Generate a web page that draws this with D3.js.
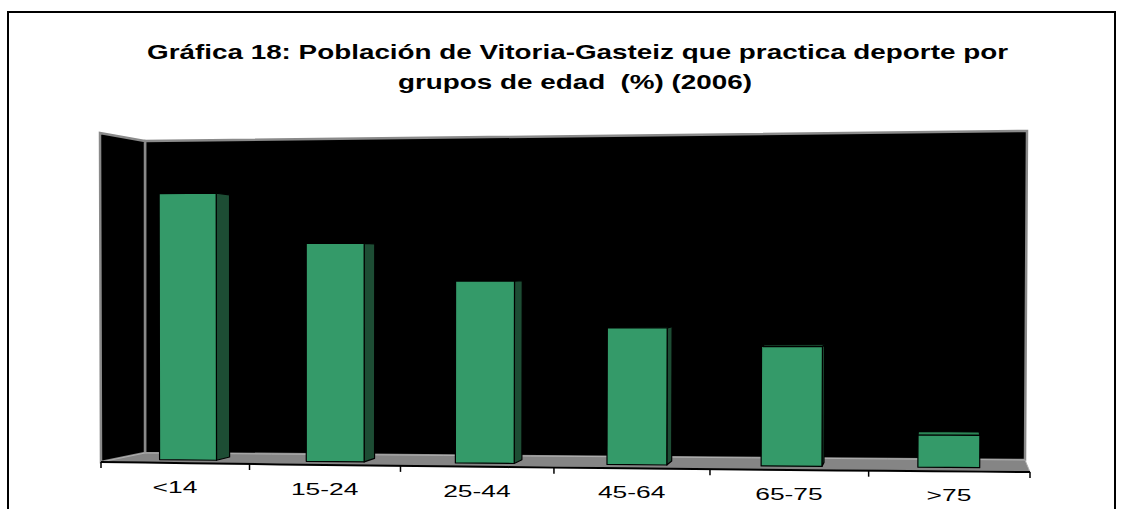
<!DOCTYPE html>
<html lang="es">
<head>
<meta charset="UTF-8">
<title>Gráfica 18</title>
<script src="https://d3js.org/d3.v7.min.js"></script>
<style>
  body { margin: 0; background: #fff; }
  svg text { font-family: Arial, "Liberation Sans", sans-serif; }
</style>
</head>
<body>
<div id="chart"></div>
<script>
// data
var categories = ["<14", "15-24", "25-44", "45-64", "65-75", ">75"];
var values = [82, 66.5, 55, 41, 35.5, 9.5];
var valueMax = 100;
var titleLines = ["Gráfica 18: Población de Vitoria-Gasteiz que practica deporte por",
                  "grupos de edad  (%) (2006)"];

var width = 1123, height = 509;

var svg = d3.select("#chart")
  .append("svg")
    .attr("width", width)
    .attr("height", height);

// outer chart border
svg.append("rect")
  .attr("x", 8).attr("y", 12)
  .attr("width", 1107).attr("height", 530)
  .attr("fill", "#fff")
  .attr("stroke", "#000")
  .attr("stroke-width", 2);

// title
svg.selectAll(".title")
  .data(titleLines)
  .enter()
  .append("text")
    .attr("class", "title")
    .attr("x", function(d, i){ return i == 0 ? 147 : 398 })
    .attr("y", function(d, i){ return 59 + i * 30 })
    .attr("textLength", function(d, i){ return i == 0 ? 861 : 354 })
    .attr("lengthAdjust", "spacingAndGlyphs")
    .attr("font-size", 21)
    .attr("font-weight", "bold")
    .style("white-space", "pre")
    .text(function(d){ return d });

// screen corners of the 3D box: front plane and back plane
var box = {
  front: { l0: [101, 462], r0: [1030, 472], l1: [100, 133], r1: [1032, 125] },
  back:  { l0: [145, 453], r0: [1025, 460], l1: [145, 141], r1: [1027, 131] }
};
var bulge = 3; // the front floor edge is a little curved

// horizontal perspective along the category axis
function persp(u) { return u / (1 + 0.051 * (1 - u)); }

function planePoint(p, f, h, isFront) {
  var x0 = p.l0[0] + (p.r0[0] - p.l0[0]) * f;
  var y0 = p.l0[1] + (p.r0[1] - p.l0[1]) * f + (isFront ? bulge * f * (1 - f) : 0);
  var x1 = p.l1[0] + (p.r1[0] - p.l1[0]) * f;
  var y1 = p.l1[1] + (p.r1[1] - p.l1[1]) * f;
  return [x0 + (x1 - x0) * h, y0 + (y1 - y0) * h];
}
// u: along categories (0..1), d: depth front->back (0..1), h: height (0..1)
function project(u, d, h) {
  var f = persp(u);
  var a = planePoint(box.front, f, h, true);
  var b = planePoint(box.back, f, h, false);
  return [a[0] + (b[0] - a[0]) * d, a[1] + (b[1] - a[1]) * d];
}

var x = d3.scaleBand().domain(categories).range([0, 1]);
var z = d3.scaleLinear().domain([0, valueMax]).range([0, 1]);
var barW = x.bandwidth() * 0.39;
var dFront = 0.325, dBack = 0.665;

var poly = d3.line();

// back wall
svg.append("path")
  .attr("d", poly([project(0, 1, 0), project(1, 1, 0), project(1, 1, 1), project(0, 1, 1)]) + "Z")
  .attr("fill", "#000")
  .attr("stroke", "#8a8a8a")
  .attr("stroke-width", 2.5);

// left side wall
svg.append("path")
  .attr("d", poly([project(0, 0, 0), project(0, 1, 0), project(0, 1, 1), project(0, 0, 1)]) + "Z")
  .attr("fill", "#000")
  .attr("stroke", "#8a8a8a")
  .attr("stroke-width", 2.5);

// floor
var steps = d3.range(0, 1.0001, 0.05);
var frontEdge = steps.map(function(u){ return project(u, 0, 0) });
var backEdge = steps.slice().reverse().map(function(u){ return project(u, 1, 0) });
svg.append("path")
  .attr("d", poly(frontEdge.concat(backEdge)) + "Z")
  .attr("fill", "#858585")
  .attr("stroke", "#b0b0b0")
  .attr("stroke-width", 1);

svg.append("path")
  .attr("d", poly(frontEdge))
  .attr("fill", "none")
  .attr("stroke", "#000")
  .attr("stroke-width", 2);

// ticks at the category boundaries
var tickU = categories.map(function(c){ return x(c) }).concat([1]);
svg.selectAll(".tick")
  .data(tickU)
  .enter()
  .append("line")
    .attr("class", "tick")
    .attr("x1", function(u){ return project(u, 0, 0)[0] })
    .attr("x2", function(u){ return project(u, 0, 0)[0] })
    .attr("y1", function(u){ return project(u, 0, 0)[1] })
    .attr("y2", function(u){ return project(u, 0, 0)[1] + 6 })
    .attr("stroke", "#000")
    .attr("stroke-width", 1.5);

// category labels
svg.selectAll(".label")
  .data(categories)
  .enter()
  .append("text")
    .attr("class", "label")
    .attr("transform", function(c){
      var p = project(x(c) + x.bandwidth() / 2, 0, 0);
      return "translate(" + p[0] + "," + (p[1] + 30) + ") scale(1.6,1)";
    })
    .attr("text-anchor", "middle")
    .attr("font-size", 16.5)
    .text(function(c){ return c });

// bars
var bars = categories.map(function(c, i){
  var ul = x(c) + (x.bandwidth() - barW) / 2;
  return { ul: ul, ur: ul + barW, h: z(values[i]) };
});

var g = svg.append("g");
bars.forEach(function(b){
  var faces = [];
  var rf = project(b.ur, dFront, 0), rb = project(b.ur, dBack, 0);
  if (rb[0] > rf[0] + 0.3) {
    faces.push({ pts: [rf, rb, project(b.ur, dBack, b.h), project(b.ur, dFront, b.h)], fill: "#1d4d34" });
  }
  var lf = project(b.ul, dFront, 0), lb = project(b.ul, dBack, 0);
  if (lb[0] < lf[0] - 0.3) {
    faces.push({ pts: [lf, lb, project(b.ul, dBack, b.h), project(b.ul, dFront, b.h)], fill: "#1d4d34" });
  }
  // top face shows when the bar top sits below the horizon
  var tf = project(b.ul, dFront, b.h), tb = project(b.ul, dBack, b.h);
  if (tb[1] < tf[1] - 0.3) {
    faces.push({ pts: [tf, project(b.ur, dFront, b.h), project(b.ur, dBack, b.h), tb], fill: "#2b8656" });
  }
  faces.push({ pts: [lf, rf, project(b.ur, dFront, b.h), tf], fill: "#349a69" });

  g.selectAll(null)
    .data(faces)
    .enter()
    .append("path")
      .attr("d", function(d){ return poly(d.pts) + "Z" })
      .attr("fill", function(d){ return d.fill })
      .attr("stroke", "#000")
      .attr("stroke-width", 1.2)
      .attr("stroke-linejoin", "round");
});
</script>
</body>
</html>
